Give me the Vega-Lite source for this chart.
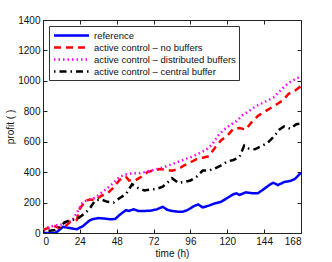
{
  "$schema": "https://vega.github.io/schema/vega-lite/v6.json",
  "width": 258,
  "height": 213,
  "autosize": {"type": "none"},
  "padding": {"left": 43, "top": 20, "right": 31, "bottom": 29},
  "background": "white",
  "config": {
    "font": "Liberation Sans",
    "view": {"stroke": "#222222", "strokeWidth": 1},
    "axis": {
      "grid": false,
      "domainColor": "#222222",
      "tickColor": "#222222",
      "tickSize": -4,
      "labelFontSize": 10,
      "labelColor": "#111111",
      "titleFontSize": 10,
      "titleFontWeight": "normal",
      "titleColor": "#111111"
    }
  },
  "data": {
    "values": [
      {"t": 0, "v": 0, "s": "reference"},
      {"t": 8, "v": 0, "s": "reference"},
      {"t": 10, "v": 15, "s": "reference"},
      {"t": 13, "v": 40, "s": "reference"},
      {"t": 16, "v": 35, "s": "reference"},
      {"t": 20, "v": 28, "s": "reference"},
      {"t": 22, "v": 25, "s": "reference"},
      {"t": 26, "v": 45, "s": "reference"},
      {"t": 30, "v": 80, "s": "reference"},
      {"t": 32, "v": 90, "s": "reference"},
      {"t": 36, "v": 98, "s": "reference"},
      {"t": 40, "v": 95, "s": "reference"},
      {"t": 44, "v": 90, "s": "reference"},
      {"t": 47, "v": 92, "s": "reference"},
      {"t": 50, "v": 120, "s": "reference"},
      {"t": 54, "v": 150, "s": "reference"},
      {"t": 56, "v": 145, "s": "reference"},
      {"t": 59, "v": 156, "s": "reference"},
      {"t": 62, "v": 145, "s": "reference"},
      {"t": 66, "v": 145, "s": "reference"},
      {"t": 70, "v": 147, "s": "reference"},
      {"t": 74, "v": 155, "s": "reference"},
      {"t": 78, "v": 172, "s": "reference"},
      {"t": 81, "v": 152, "s": "reference"},
      {"t": 84, "v": 145, "s": "reference"},
      {"t": 88, "v": 140, "s": "reference"},
      {"t": 91, "v": 140, "s": "reference"},
      {"t": 94, "v": 150, "s": "reference"},
      {"t": 98, "v": 175, "s": "reference"},
      {"t": 101, "v": 188, "s": "reference"},
      {"t": 104, "v": 168, "s": "reference"},
      {"t": 108, "v": 180, "s": "reference"},
      {"t": 112, "v": 195, "s": "reference"},
      {"t": 116, "v": 205, "s": "reference"},
      {"t": 120, "v": 230, "s": "reference"},
      {"t": 124, "v": 255, "s": "reference"},
      {"t": 126, "v": 260, "s": "reference"},
      {"t": 128, "v": 250, "s": "reference"},
      {"t": 132, "v": 267, "s": "reference"},
      {"t": 136, "v": 262, "s": "reference"},
      {"t": 140, "v": 262, "s": "reference"},
      {"t": 144, "v": 290, "s": "reference"},
      {"t": 148, "v": 320, "s": "reference"},
      {"t": 150, "v": 330, "s": "reference"},
      {"t": 153, "v": 315, "s": "reference"},
      {"t": 157, "v": 335, "s": "reference"},
      {"t": 161, "v": 342, "s": "reference"},
      {"t": 164, "v": 355, "s": "reference"},
      {"t": 168, "v": 396, "s": "reference"},

      {"t": 0, "v": 20, "s": "active control – no buffers"},
      {"t": 4, "v": 35, "s": "active control – no buffers"},
      {"t": 7, "v": 48, "s": "active control – no buffers"},
      {"t": 10, "v": 35, "s": "active control – no buffers"},
      {"t": 14, "v": 40, "s": "active control – no buffers"},
      {"t": 18, "v": 75, "s": "active control – no buffers"},
      {"t": 22, "v": 85, "s": "active control – no buffers"},
      {"t": 24, "v": 160, "s": "active control – no buffers"},
      {"t": 28, "v": 215, "s": "active control – no buffers"},
      {"t": 32, "v": 220, "s": "active control – no buffers"},
      {"t": 34, "v": 215, "s": "active control – no buffers"},
      {"t": 38, "v": 245, "s": "active control – no buffers"},
      {"t": 42, "v": 260, "s": "active control – no buffers"},
      {"t": 46, "v": 300, "s": "active control – no buffers"},
      {"t": 50, "v": 350, "s": "active control – no buffers"},
      {"t": 54, "v": 370, "s": "active control – no buffers"},
      {"t": 56, "v": 345, "s": "active control – no buffers"},
      {"t": 60, "v": 345, "s": "active control – no buffers"},
      {"t": 64, "v": 370, "s": "active control – no buffers"},
      {"t": 68, "v": 400, "s": "active control – no buffers"},
      {"t": 72, "v": 412, "s": "active control – no buffers"},
      {"t": 76, "v": 420, "s": "active control – no buffers"},
      {"t": 80, "v": 415, "s": "active control – no buffers"},
      {"t": 84, "v": 410, "s": "active control – no buffers"},
      {"t": 88, "v": 420, "s": "active control – no buffers"},
      {"t": 92, "v": 445, "s": "active control – no buffers"},
      {"t": 96, "v": 465, "s": "active control – no buffers"},
      {"t": 100, "v": 485, "s": "active control – no buffers"},
      {"t": 104, "v": 495, "s": "active control – no buffers"},
      {"t": 108, "v": 505, "s": "active control – no buffers"},
      {"t": 112, "v": 560, "s": "active control – no buffers"},
      {"t": 116, "v": 610, "s": "active control – no buffers"},
      {"t": 120, "v": 640, "s": "active control – no buffers"},
      {"t": 124, "v": 685, "s": "active control – no buffers"},
      {"t": 128, "v": 690, "s": "active control – no buffers"},
      {"t": 132, "v": 680, "s": "active control – no buffers"},
      {"t": 136, "v": 730, "s": "active control – no buffers"},
      {"t": 140, "v": 770, "s": "active control – no buffers"},
      {"t": 144, "v": 795, "s": "active control – no buffers"},
      {"t": 148, "v": 820, "s": "active control – no buffers"},
      {"t": 152, "v": 845, "s": "active control – no buffers"},
      {"t": 156, "v": 870, "s": "active control – no buffers"},
      {"t": 160, "v": 915, "s": "active control – no buffers"},
      {"t": 164, "v": 935, "s": "active control – no buffers"},
      {"t": 168, "v": 965, "s": "active control – no buffers"},

      {"t": 0, "v": 25, "s": "active control – distributed buffers"},
      {"t": 4, "v": 40, "s": "active control – distributed buffers"},
      {"t": 8, "v": 50, "s": "active control – distributed buffers"},
      {"t": 12, "v": 55, "s": "active control – distributed buffers"},
      {"t": 16, "v": 70, "s": "active control – distributed buffers"},
      {"t": 20, "v": 95, "s": "active control – distributed buffers"},
      {"t": 24, "v": 170, "s": "active control – distributed buffers"},
      {"t": 26, "v": 205, "s": "active control – distributed buffers"},
      {"t": 30, "v": 220, "s": "active control – distributed buffers"},
      {"t": 34, "v": 230, "s": "active control – distributed buffers"},
      {"t": 38, "v": 265, "s": "active control – distributed buffers"},
      {"t": 42, "v": 295, "s": "active control – distributed buffers"},
      {"t": 46, "v": 330, "s": "active control – distributed buffers"},
      {"t": 50, "v": 370, "s": "active control – distributed buffers"},
      {"t": 54, "v": 385, "s": "active control – distributed buffers"},
      {"t": 58, "v": 392, "s": "active control – distributed buffers"},
      {"t": 62, "v": 392, "s": "active control – distributed buffers"},
      {"t": 66, "v": 400, "s": "active control – distributed buffers"},
      {"t": 70, "v": 410, "s": "active control – distributed buffers"},
      {"t": 74, "v": 420, "s": "active control – distributed buffers"},
      {"t": 78, "v": 430, "s": "active control – distributed buffers"},
      {"t": 82, "v": 445, "s": "active control – distributed buffers"},
      {"t": 86, "v": 460, "s": "active control – distributed buffers"},
      {"t": 90, "v": 475, "s": "active control – distributed buffers"},
      {"t": 94, "v": 490, "s": "active control – distributed buffers"},
      {"t": 98, "v": 505, "s": "active control – distributed buffers"},
      {"t": 102, "v": 525, "s": "active control – distributed buffers"},
      {"t": 106, "v": 545, "s": "active control – distributed buffers"},
      {"t": 110, "v": 580, "s": "active control – distributed buffers"},
      {"t": 114, "v": 640, "s": "active control – distributed buffers"},
      {"t": 118, "v": 680, "s": "active control – distributed buffers"},
      {"t": 122, "v": 710, "s": "active control – distributed buffers"},
      {"t": 126, "v": 735, "s": "active control – distributed buffers"},
      {"t": 130, "v": 775, "s": "active control – distributed buffers"},
      {"t": 134, "v": 800, "s": "active control – distributed buffers"},
      {"t": 138, "v": 830, "s": "active control – distributed buffers"},
      {"t": 142, "v": 850, "s": "active control – distributed buffers"},
      {"t": 146, "v": 870, "s": "active control – distributed buffers"},
      {"t": 150, "v": 890, "s": "active control – distributed buffers"},
      {"t": 154, "v": 930, "s": "active control – distributed buffers"},
      {"t": 158, "v": 970, "s": "active control – distributed buffers"},
      {"t": 162, "v": 1000, "s": "active control – distributed buffers"},
      {"t": 166, "v": 1020, "s": "active control – distributed buffers"},
      {"t": 168, "v": 1030, "s": "active control – distributed buffers"},

      {"t": 0, "v": 10, "s": "active control – central buffer"},
      {"t": 4, "v": 15, "s": "active control – central buffer"},
      {"t": 8, "v": 20, "s": "active control – central buffer"},
      {"t": 10, "v": 30, "s": "active control – central buffer"},
      {"t": 14, "v": 70, "s": "active control – central buffer"},
      {"t": 18, "v": 85, "s": "active control – central buffer"},
      {"t": 22, "v": 90, "s": "active control – central buffer"},
      {"t": 26, "v": 120, "s": "active control – central buffer"},
      {"t": 30, "v": 155, "s": "active control – central buffer"},
      {"t": 34, "v": 215, "s": "active control – central buffer"},
      {"t": 38, "v": 220, "s": "active control – central buffer"},
      {"t": 42, "v": 205, "s": "active control – central buffer"},
      {"t": 46, "v": 200, "s": "active control – central buffer"},
      {"t": 50, "v": 230, "s": "active control – central buffer"},
      {"t": 54, "v": 255, "s": "active control – central buffer"},
      {"t": 58, "v": 320, "s": "active control – central buffer"},
      {"t": 62, "v": 295, "s": "active control – central buffer"},
      {"t": 66, "v": 280, "s": "active control – central buffer"},
      {"t": 70, "v": 285, "s": "active control – central buffer"},
      {"t": 74, "v": 290, "s": "active control – central buffer"},
      {"t": 78, "v": 305, "s": "active control – central buffer"},
      {"t": 82, "v": 340, "s": "active control – central buffer"},
      {"t": 84, "v": 360, "s": "active control – central buffer"},
      {"t": 88, "v": 330, "s": "active control – central buffer"},
      {"t": 92, "v": 335, "s": "active control – central buffer"},
      {"t": 96, "v": 345, "s": "active control – central buffer"},
      {"t": 100, "v": 370, "s": "active control – central buffer"},
      {"t": 104, "v": 410, "s": "active control – central buffer"},
      {"t": 108, "v": 410, "s": "active control – central buffer"},
      {"t": 112, "v": 425, "s": "active control – central buffer"},
      {"t": 116, "v": 445, "s": "active control – central buffer"},
      {"t": 120, "v": 470, "s": "active control – central buffer"},
      {"t": 124, "v": 480, "s": "active control – central buffer"},
      {"t": 128, "v": 500, "s": "active control – central buffer"},
      {"t": 131, "v": 575, "s": "active control – central buffer"},
      {"t": 134, "v": 555, "s": "active control – central buffer"},
      {"t": 138, "v": 550, "s": "active control – central buffer"},
      {"t": 142, "v": 570, "s": "active control – central buffer"},
      {"t": 146, "v": 590, "s": "active control – central buffer"},
      {"t": 150, "v": 630, "s": "active control – central buffer"},
      {"t": 154, "v": 680, "s": "active control – central buffer"},
      {"t": 157, "v": 700, "s": "active control – central buffer"},
      {"t": 161, "v": 685, "s": "active control – central buffer"},
      {"t": 165, "v": 715, "s": "active control – central buffer"},
      {"t": 168, "v": 720, "s": "active control – central buffer"}
    ]
  },
  "layer": [
    {
      "mark": {"type": "line", "strokeWidth": 2.5, "clip": true},
      "encoding": {
        "x": {
          "field": "t", "type": "quantitative",
          "scale": {"domain": [0, 168], "nice": false},
          "axis": {"values": [0, 24, 48, 72, 96, 120, 144, 168], "title": "time (h)", "labelPadding": 7, "titlePadding": 2, "orient": "bottom"}
        },
        "y": {
          "field": "v", "type": "quantitative",
          "scale": {"domain": [0, 1400], "nice": false},
          "axis": {"values": [0, 200, 400, 600, 800, 1000, 1200, 1400], "format": "d", "title": "profit ( )", "labelPadding": 7, "titleX": -28, "orient": "left"}
        },
        "color": {
          "field": "s", "type": "nominal",
          "scale": {
            "domain": ["reference", "active control – no buffers", "active control – distributed buffers", "active control – central buffer"],
            "range": ["#0000ff", "#ff0000", "#ff00ff", "#000000"]
          },
          "legend": {
            "title": null,
            "orient": "top-left",
            "offset": 6,
            "padding": 3,
            "strokeColor": "#333333",
            "fillColor": "white",
            "symbolType": "stroke",
            "symbolSize": 100,
            "symbolOffset": 13,
            "symbolStrokeWidth": 2.5,
            "labelFontSize": 9.5,
            "labelColor": "#111111",
            "rowPadding": 0,
            "labelOffset": 16,
            "encode": {"symbols": {"update": {"shape": {"value": "M-3.5,0H3.5"}}}}
          }
        },
        "strokeDash": {
          "field": "s", "type": "nominal",
          "scale": {
            "domain": ["reference", "active control – no buffers", "active control – distributed buffers", "active control – central buffer"],
            "range": [[1, 0], [7, 5], [1.5, 3], [1.5, 4, 7, 4]]
          },
          "legend": null
        }
      }
    },
    {
      "mark": {"type": "line", "strokeOpacity": 0},
      "encoding": {
        "x": {
          "field": "t", "type": "quantitative",
          "axis": {"orient": "top", "values": [0, 24, 48, 72, 96, 120, 144, 168], "labels": false, "title": null}
        },
        "y": {
          "field": "v", "type": "quantitative",
          "axis": {"orient": "right", "values": [0, 200, 400, 600, 800, 1000, 1200, 1400], "labels": false, "title": null}
        },
        "detail": {"field": "s", "type": "nominal"}
      }
    }
  ],
  "resolve": {"axis": {"x": "independent", "y": "independent"}}
}
